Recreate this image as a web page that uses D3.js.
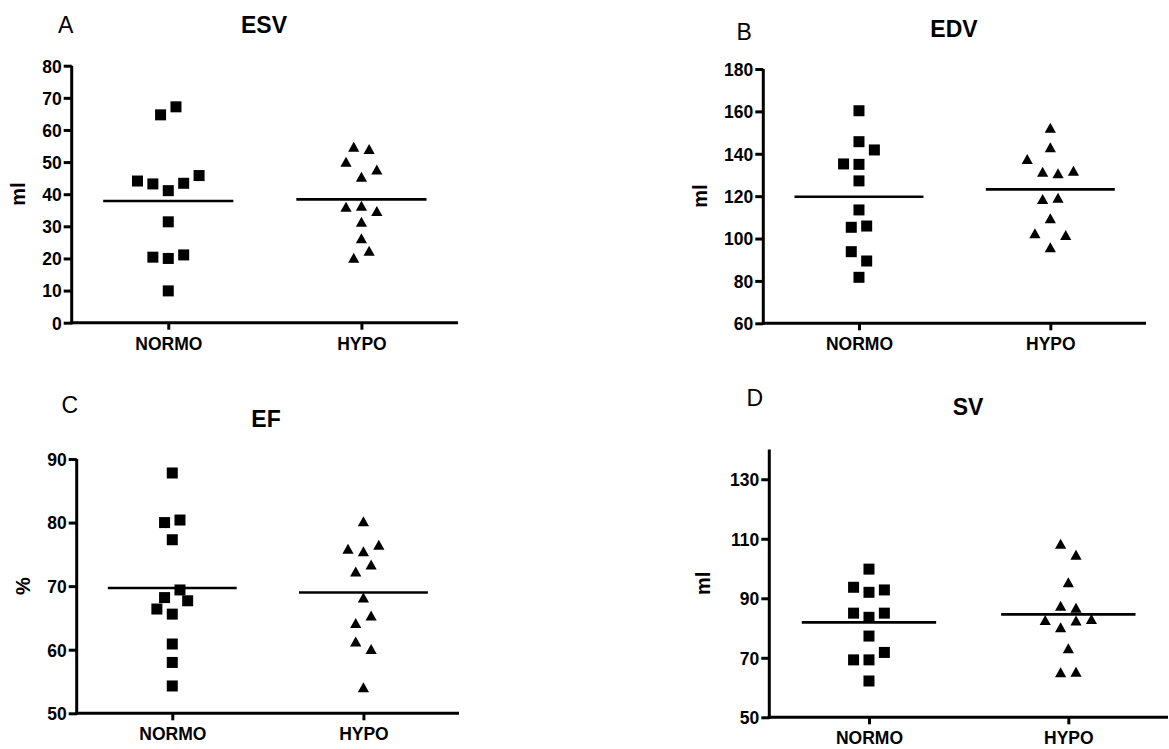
<!DOCTYPE html>
<html>
<head>
<meta charset="utf-8">
<script src="https://cdn.jsdelivr.net/npm/d3@7"></script>
<style>
  html, body { margin: 0; padding: 0; background: #fff; }
  svg { display: block; }
  text { font-family: "Liberation Sans", Arial, sans-serif; fill: #000; }
  .tick text { font-size: 17.5px; font-weight: bold; }
</style>
</head>
<body>
<svg id="chart" width="1169" height="749"></svg>
<script>
// ---------- DATA ----------
const groups = ["NORMO", "HYPO"];

const esvTicks = [0, 10, 20, 30, 40, 50, 60, 70, 80];
const esvNormo = [64.7, 67.2, 44.1, 43.2, 41.1, 43.4, 45.8, 31.4, 20.4, 20.0, 21.1, 9.9];
const esvNormoSlot = [-1, 1, -4, -2, 0, 2, 4, 0, -2, 0, 2, 0];
const esvHypo = [54.8, 54.1, 50.1, 47.7, 45.4, 36.1, 36.4, 34.8, 31.4, 26.3, 22.4, 20.2];
const esvHypoSlot = [-1, 1, -2, 2, 0, -2, 0, 2, 0, 0, 1, -1];
const esvMean = [37.9, 38.4];

const edvTicks = [60, 80, 100, 120, 140, 160, 180];
const edvNormo = [160.3, 145.7, 141.8, 135.2, 135.0, 127.2, 113.5, 105.3, 105.9, 93.8, 89.4, 81.7];
const edvNormoSlot = [0, 0, 2, -2, 0, 0, 0, -1, 1, -1, 1, 0];
const edvHypo = [152.3, 143.1, 137.5, 131.5, 130.8, 132.0, 118.7, 119.3, 109.6, 102.5, 101.7, 95.9];
const edvHypoSlot = [0, 0, -3, -1, 1, 3, -1, 1, 0, -2, 2, 0];
const edvMean = [119.7, 123.2];

const efTicks = [50, 60, 70, 80, 90];
const efNormo = [87.8, 80.0, 80.4, 77.3, 69.4, 68.2, 67.7, 66.4, 65.6, 60.9, 58.0, 54.3];
const efNormoSlot = [0, -1, 1, 0, 1, -1, 2, -2, 0, 0, 0, 0];
const efHypo = [80.2, 75.9, 75.5, 76.5, 73.4, 72.3, 68.2, 65.4, 64.2, 61.3, 60.1, 54.1];
const efHypoSlot = [0, -2, 0, 2, 1, -1, 0, 1, -1, -1, 1, 0];
const efMean = [69.7, 69.0];

const svTicks = [50, 70, 90, 110, 130];
const svNormo = [99.8, 93.7, 92.0, 92.8, 85.0, 83.6, 85.0, 77.3, 69.3, 69.3, 71.8, 62.2];
const svNormoSlot = [0, -2, 0, 2, -2, 0, 2, 0, -2, 0, 2, 0];
const svHypo = [108.3, 104.6, 95.4, 87.5, 86.8, 82.7, 82.5, 83.0, 80.3, 73.2, 65.1, 65.3];
const svHypoSlot = [-1, 1, 0, -1, 1, -3, 1, 3, -1, 0, -1, 1];
const svMean = [81.9, 84.6];

// ---------- LAYOUT ----------
const panels = [
  { letter: "A", title: "ESV", ylabel: "ml", domain: [0, 80], ticks: esvTicks,
    normo: esvNormo, normoSlot: esvNormoSlot, hypo: esvHypo, hypoSlot: esvHypoSlot, means: esvMean,
    x0: 71.7, x1: 458, yTop: 65.7, yBot: 322.7,
    titleX: 264, titleY: 33, letterX: 58, letterY: 33, ylabX: 25 },
  { letter: "B", title: "EDV", ylabel: "ml", domain: [60, 180], ticks: edvTicks,
    normo: edvNormo, normoSlot: edvNormoSlot, hypo: edvHypo, hypoSlot: edvHypoSlot, means: edvMean,
    x0: 763.3, x1: 1146, yTop: 69, yBot: 323.3,
    titleX: 954, titleY: 36.5, letterX: 736.5, letterY: 40, ylabX: 706.5 },
  { letter: "C", title: "EF", ylabel: "%", domain: [50, 90], ticks: efTicks,
    normo: efNormo, normoSlot: efNormoSlot, hypo: efHypo, hypoSlot: efHypoSlot, means: efMean,
    x0: 76.7, x1: 459, yTop: 459, yBot: 713.3,
    titleX: 266, titleY: 426.5, letterX: 61.5, letterY: 413.3, ylabX: 30 },
  { letter: "D", title: "SV", ylabel: "ml", domain: [50, 140], ticks: svTicks,
    normo: svNormo, normoSlot: svNormoSlot, hypo: svHypo, hypoSlot: svHypoSlot, means: svMean,
    x0: 769.3, x1: 1168, yTop: 449.5, yBot: 717.3,
    titleX: 968, titleY: 415, letterX: 746.5, letterY: 406, ylabX: 710 }
];

const svg = d3.select("#chart");
const slotUnit = 7.7;
const squareSize = 11;
const triPath = "M0,-5 L5.6,5 L-5.6,5 Z";

panels.forEach(p => {
  const g = svg.append("g");
  const y = d3.scaleLinear().domain(p.domain).range([p.yBot, p.yTop]);
  const x = d3.scalePoint().domain(groups).range([p.x0, p.x1]).padding(0.5);
  const axisLen = p.x1 - p.x0;

  // Y axis
  const yAxis = d3.axisLeft(y).tickValues(p.ticks).tickSize(8).tickPadding(2).tickFormat(d3.format("d"));
  const ya = g.append("g").attr("transform", `translate(${p.x0},0)`).call(yAxis);
  ya.attr("font-size", null).attr("font-family", null);
  ya.select(".domain").remove();
  ya.selectAll(".tick line").attr("stroke", "#000").attr("stroke-width", 3);
  ya.selectAll(".tick text")
    .style("font-size", "17.5px").style("font-weight", "bold")
    .style("fill", "#000").attr("dy", "0.36em");
  g.append("line")
    .attr("x1", p.x0).attr("x2", p.x0)
    .attr("y1", y.range()[1]).attr("y2", p.yBot + 1.5)
    .attr("stroke", "#000").attr("stroke-width", 3);

  // X axis
  const xAxis = d3.axisBottom(x).tickSize(7).tickPadding(6);
  const xa = g.append("g").attr("transform", `translate(0,${p.yBot})`).call(xAxis);
  xa.attr("font-size", null).attr("font-family", null);
  xa.select(".domain").remove();
  xa.selectAll(".tick line").attr("stroke", "#000").attr("stroke-width", 3);
  xa.selectAll(".tick text")
    .style("font-size", "17.5px").style("font-weight", "bold")
    .style("fill", "#000").attr("dy", "0.8em");
  g.append("line")
    .attr("x1", p.x0 - 1.5).attr("x2", p.x1)
    .attr("y1", p.yBot).attr("y2", p.yBot)
    .attr("stroke", "#000").attr("stroke-width", 3);

  // Squares (NORMO)
  g.selectAll(".sq").data(p.normo.map((v, i) => ({ v, s: p.normoSlot[i] })))
    .join("rect")
    .attr("x", d => x("NORMO") + d.s * slotUnit - squareSize / 2)
    .attr("y", d => y(d.v) - squareSize / 2)
    .attr("width", squareSize).attr("height", squareSize)
    .attr("fill", "#000");

  // Triangles (HYPO)
  g.selectAll(".tri").data(p.hypo.map((v, i) => ({ v, s: p.hypoSlot[i] })))
    .join("path")
    .attr("d", triPath)
    .attr("transform", d => `translate(${x("HYPO") + d.s * slotUnit},${y(d.v)})`)
    .attr("fill", "#000");

  // Mean lines
  const halfW = axisLen * 0.337 / 2;
  g.selectAll(".mean").data(groups.map((k, i) => ({ k, m: p.means[i] })))
    .join("line")
    .attr("x1", d => x(d.k) - halfW).attr("x2", d => x(d.k) + halfW)
    .attr("y1", d => y(d.m)).attr("y2", d => y(d.m))
    .attr("stroke", "#000").attr("stroke-width", 2.6);

  // Titles and labels
  g.append("text").attr("x", p.titleX).attr("y", p.titleY)
    .attr("text-anchor", "middle").style("font-weight", "bold").style("font-size", "23px")
    .text(p.title);
  g.append("text").attr("x", p.letterX).attr("y", p.letterY)
    .style("font-size", "23px")
    .text(p.letter);
  g.append("text")
    .attr("transform", `translate(${p.ylabX},${(p.yTop + p.yBot) / 2}) rotate(-90)`)
    .attr("text-anchor", "middle").style("font-weight", "bold").style("font-size", "20px")
    .text(p.ylabel);
});
</script>
</body>
</html>
